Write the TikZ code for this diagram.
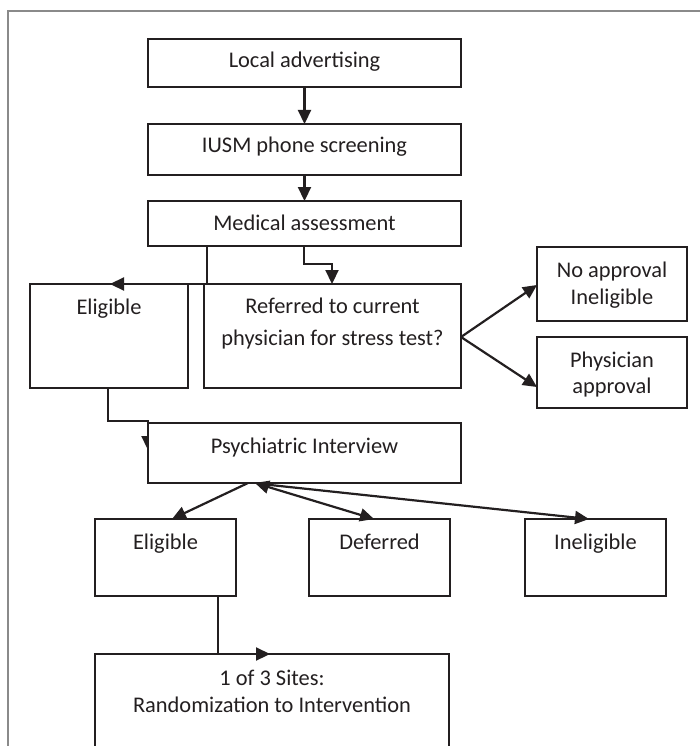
\documentclass[tikz,border=0pt]{standalone}
\usepackage{fontspec}
\setmainfont{Carlito}
\usetikzlibrary{arrows.meta,backgrounds}
\definecolor{ink}{HTML}{231F20}
\definecolor{framec}{HTML}{8A8A8A}
\begin{document}
\begin{tikzpicture}[x=1pt,y=-1pt,
  >={Triangle[length=14pt,width=13pt]},
  bx/.style={draw=ink, line width=1.5pt, anchor=north west, inner sep=0pt, outer sep=0pt},
  txt/.style={anchor=base, inner sep=0pt, text=ink, font=\fontsize{22.4}{27}\selectfont},
  conn/.style={draw=ink, line width=2.2pt, ->},
  dconn/.style={draw=ink, line width=2.2pt, <->}]
\useasboundingbox (0,0) rectangle (700,746);
\clip (0,0) rectangle (700,746);
\draw[framec, line width=1.2pt] (8,760) -- (8,11) -- (710,11);
% boxes
\node[bx, minimum width=313pt, minimum height=48pt] (b1) at (148,39) {};
\node[bx, minimum width=313pt, minimum height=51pt] (b2) at (148,124) {};
\node[bx, minimum width=313pt, minimum height=45pt] (b3) at (148,201) {};
\node[bx, minimum width=158pt, minimum height=104pt] (el1) at (30,284) {};
\node[bx, minimum width=257pt, minimum height=104pt] (ref) at (204,284) {};
\node[bx, minimum width=150pt, minimum height=74pt] (noap) at (537,247) {};
\node[bx, minimum width=150pt, minimum height=71pt] (phys) at (537,337) {};
\node[bx, fill=white, minimum width=313pt, minimum height=60pt] (psy) at (148,423) {};
\node[bx, minimum width=141pt, minimum height=77pt] (el2) at (95,519) {};
\node[bx, minimum width=141pt, minimum height=77pt] (def) at (309,519) {};
\node[bx, minimum width=141pt, minimum height=77pt] (inel) at (525,519) {};
\node[bx, minimum width=354pt, minimum height=130pt] (rnd) at (95,654) {};
% texts
\node[txt] (t1) at (304.5,68) {Local advertising};
\node[txt] (t2) at (304.5,153) {IUSM phone screening};
\node[txt] (t3) at (304.5,230) {Medical assessment};
\node[txt] (t4) at (109,314) {Eligible};
\node[txt] (t5a) at (332.5,313) {Referred to current};
\node[txt] (t5b) at (332.5,345) {physician for stress test?};
\node[txt] (t6a) at (612,277) {No approval};
\node[txt] (t6b) at (612,304) {Ineligible};
\node[txt] (t7a) at (612,367) {Physician};
\node[txt] (t7b) at (612,393) {approval};
\node[txt] (t8) at (304.5,453) {Psychiatric Interview};
\node[txt] (t9) at (165.5,549) {Eligible};
\node[txt] (t10) at (379.5,549) {Deferred};
\node[txt] (t11) at (595.5,549) {Ineligible};
\node[txt] (t12a) at (272,685) {1 of 3 Sites:};
\node[txt] (t12b) at (272,712) {Randomization to Intervention};
% connectors
\draw[conn] (b1.south) -- (b2.north);
\draw[conn] (b2.south) -- (b3.north);
\draw[conn] ([xshift=59pt]b3.south west) |- ([xshift=80pt]el1.north west);
\draw[conn] ([xshift=156pt]b3.south west) -- ++(0,18) -| ([xshift=128pt]ref.north west);
\draw[conn] ([yshift=-53pt]ref.north east) -- ([yshift=-38pt]noap.north west);
\draw[conn] ([yshift=-53pt]ref.north east) -- ([yshift=-50pt]phys.north west);
\begin{pgfonlayer}{background}
\draw[conn] ([xshift=78pt]el1.south west) -- ++(0,33) -| ([yshift=-27pt]psy.north west);
\end{pgfonlayer}
\draw[conn] ([xshift=100pt]psy.south west) -- ([xshift=77pt]el2.north west);
\draw[dconn] ([xshift=107pt]psy.south west) -- ([xshift=65pt]def.north west);
\draw[conn] ([xshift=113pt,yshift=-1pt]psy.south west) -- ([xshift=64pt]inel.north west);
\draw[conn] ([xshift=123pt]el2.south west) |- ([xshift=175pt]rnd.north west);
\end{tikzpicture}
\end{document}
